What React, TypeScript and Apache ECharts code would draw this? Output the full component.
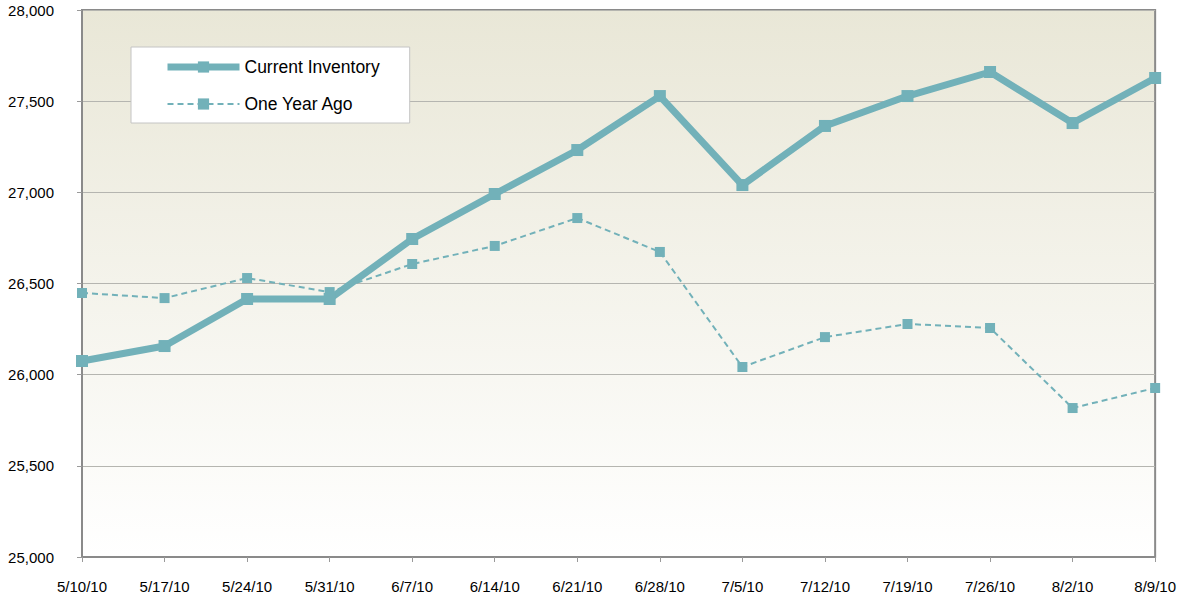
import React, { useEffect, useRef } from "react";
import * as echarts from "echarts";

const categories = ["5/10/10", "5/17/10", "5/24/10", "5/31/10", "6/7/10", "6/14/10", "6/21/10", "6/28/10", "7/5/10", "7/12/10", "7/19/10", "7/26/10", "8/2/10", "8/9/10"];
const currentInventory = [26075, 26157, 26415, 26415, 26744, 26991, 27232, 27528, 27040, 27364, 27528, 27660, 27380, 27627];
const oneYearAgo = [26448, 26420, 26530, 26453, 26607, 26706, 26859, 26673, 26042, 26206, 26278, 26256, 25817, 25927];

const LINE = "#72B1B9";

export default function App() {
  const ref = useRef<HTMLDivElement>(null);
  useEffect(() => {
    const chart = echarts.init(ref.current!, null, { renderer: "svg" });
    chart.setOption({
      animation: false,
      textStyle: { fontFamily: "Liberation Sans, Arial, sans-serif" },
      grid: {
        left: 82,
        top: 10,
        width: 1082,
        height: 547,
        show: true,
        borderColor: "#8a8a8a",
        borderWidth: 2,
        backgroundColor: new echarts.graphic.LinearGradient(0, 0, 0, 1, [
          { offset: 0, color: "#E9E7D7" },
          { offset: 1, color: "#FFFFFF" },
        ]),
      },
      legend: {
        orient: "vertical",
        left: 131,
        top: 47,
        backgroundColor: "#FFFFFF",
        borderColor: "#C4C4C4",
        borderWidth: 1,
        borderRadius: 0,
        padding: [11, 30, 10, 33],
        itemWidth: 72,
        itemHeight: 14,
        itemGap: 19,
        textStyle: { fontSize: 17.5, color: "#000", fontFamily: "Liberation Sans, Arial, sans-serif" },
        data: [
          { name: "Current Inventory", lineStyle: { width: 7 } },
          { name: "One Year Ago", lineStyle: { width: 2 } },
        ],
      },
      xAxis: {
        type: "category",
        data: categories,
        boundaryGap: false,
        axisLine: { lineStyle: { color: "#8a8a8a", width: 1 } },
        axisTick: { show: true, length: 5, lineStyle: { color: "#9a9a9a" } },
        axisLabel: { color: "#000", fontSize: 15, margin: 22 },
        splitLine: { show: false },
      },
      yAxis: {
        type: "value",
        min: 25000,
        max: 28000,
        interval: 500,
        axisLine: { show: true, lineStyle: { color: "#8a8a8a", width: 1 } },
        axisTick: { show: true, length: 5, lineStyle: { color: "#9a9a9a" } },
        axisLabel: {
          color: "#000",
          fontSize: 15,
          margin: 28,
          formatter: (v: number) => v.toLocaleString("en-US"),
        },
        splitLine: { show: true, lineStyle: { color: "#B5B5B0", width: 1 } },
      },
      series: [
        {
          name: "Current Inventory",
          type: "line",
          data: currentInventory,
          symbol: "rect",
          symbolSize: 12,
          lineStyle: { color: LINE, width: 7 },
          itemStyle: { color: LINE },
          z: 3,
        },
        {
          name: "One Year Ago",
          type: "line",
          data: oneYearAgo,
          symbol: "rect",
          symbolSize: 10,
          lineStyle: { color: LINE, width: 2, type: [6, 4] },
          itemStyle: { color: LINE },
          z: 2,
        },
      ],
    });
    return () => chart.dispose();
  }, []);
  return <div ref={ref} style={{ width: 1179, height: 600, position: "absolute", left: 0, top: 0 }} />;
}
